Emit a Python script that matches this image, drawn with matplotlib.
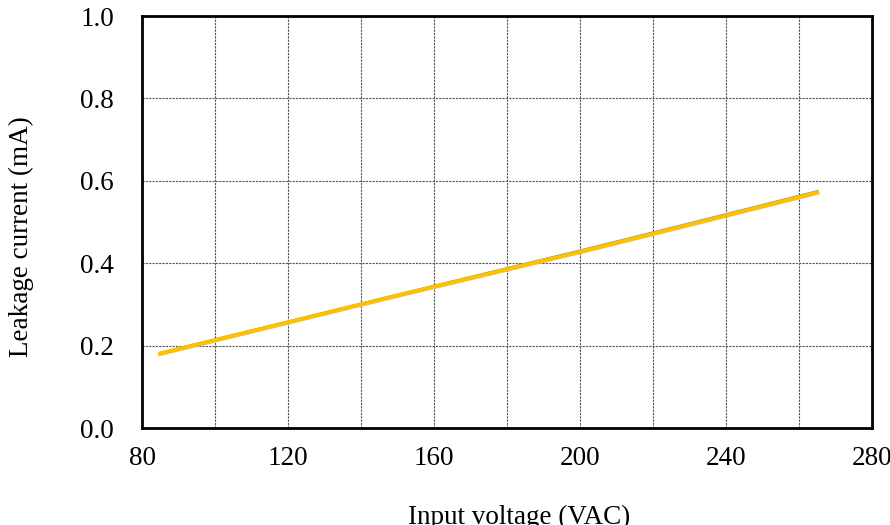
import matplotlib
matplotlib.use("Agg")
import matplotlib.pyplot as plt

voltage = [85, 115, 150, 200, 230, 265]
leak_blue = [0.182, 0.247, 0.323, 0.430, 0.496, 0.574]
leak_orange = [0.180, 0.245, 0.321, 0.427, 0.493, 0.571]
xticks = [80, 120, 160, 200, 240, 280]
yticks = [0.0, 0.2, 0.4, 0.6, 0.8, 1.0]

plt.rcParams['font.family'] = ['Liberation Serif', 'DejaVu Serif']
W, H = 890, 525
fig = plt.figure(figsize=(8.9, 5.25), dpi=100)
ax = fig.add_axes([142/W, 1 - 428/H, 730/W, 412/H])

ax.plot(voltage, leak_blue, color='#5B9BD5', lw=2.0, zorder=3)
ax.plot(voltage, leak_orange, color='#FFC000', lw=3.0, zorder=4)

ax.set_xlim(80, 280)
ax.set_ylim(0, 1.0)
ax.set_xticks(xticks)
ax.set_xticks(range(80, 281, 20), minor=True)
ax.set_yticks(yticks)
ax.set_yticklabels([f"{v:.1f}" for v in yticks])
ax.grid(True, which='both', axis='x', color='#555555', ls=(0, (2, 1)), lw=0.8)
ax.grid(True, which='major', axis='y', color='#555555', ls=(0, (2, 1)), lw=0.8)
ax.tick_params(which='both', length=0, labelsize=19.5)
ax.tick_params(axis='y', pad=20)
ax.tick_params(axis='x', pad=13)
for s in ax.spines.values():
    s.set_linewidth(2)
    s.set_color('black')

fig.text(519/W, 1 - 524.5/H, 'Input voltage (VAC)', fontsize=19.5,
         ha='center', va='baseline')
fig.text(21/W, 1 - 236.5/H, 'Leakage current (mA)', fontsize=19.5,
         ha='center', va='center', rotation=90)

fig.savefig('out.png', dpi=100)
